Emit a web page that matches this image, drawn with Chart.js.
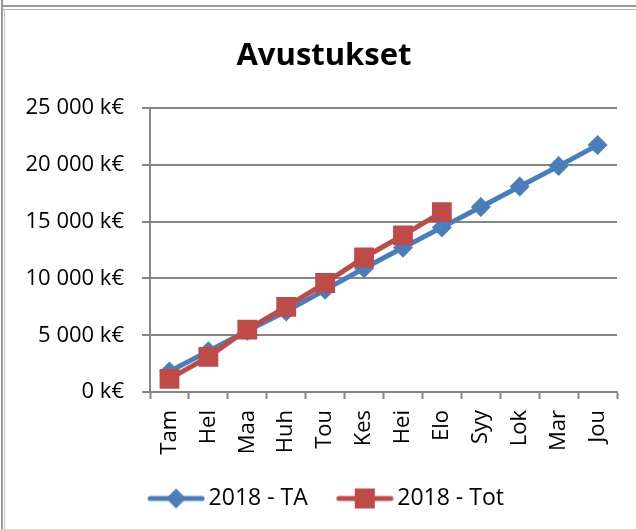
<!DOCTYPE html>
<html>
<head>
<meta charset="utf-8">
<script src="https://cdn.jsdelivr.net/npm/chart.js@4/dist/chart.umd.min.js"></script>
<style>
  body { margin: 0; background: #fff; }
  #wrap { position: relative; width: 636px; height: 529px; overflow: hidden; }
  #chart { position: absolute; left: 0; top: 0; }
  .frame { position: absolute; background: #9a9a9a; }
</style>
</head>
<body>
<div id="wrap">
  <canvas id="chart" width="636" height="529"></canvas>
  <div class="frame" style="left:1px;top:0;width:2px;height:529px"></div>
  <div class="frame" style="left:3px;top:5px;width:633px;height:2px"></div>
  <div class="frame" style="left:3px;top:9px;width:633px;height:1px;background:#b5b5b5"></div>
  <div class="frame" style="left:4px;top:9px;width:1px;height:520px;background:#c5c5c5"></div>
</div>
<script>
const months = ['Tam', 'Hel', 'Maa', 'Huh', 'Tou', 'Kes', 'Hei', 'Elo', 'Syy', 'Lok', 'Mar', 'Jou'];
const ta2018 = [1800, 3600, 5400, 7100, 9000, 10900, 12700, 14500, 16300, 18100, 19900, 21750];
const tot2018 = [1150, 3100, 5500, 7500, 9600, 11850, 13800, 15850, null, null, null, null];
const yTicks = [0, 5000, 10000, 15000, 20000, 25000];

const blue = 'rgb(74, 126, 187)';
const red = 'rgb(190, 75, 72)';
const grid = 'rgb(134, 134, 134)';
const font = "'Open Sans', sans-serif";

// legend sample: line with marker in the middle
function legendIcon(color, shape) {
    const c = document.createElement('canvas');
    c.width = 58; c.height = 24;
    const g = c.getContext('2d');
    g.strokeStyle = color;
    g.lineWidth = 5;
    g.lineCap = 'round';
    g.beginPath();
    g.moveTo(3, 12); g.lineTo(55, 12);
    g.stroke();
    g.fillStyle = color;
    g.beginPath();
    if (shape === 'diamond') {
        g.moveTo(29, 2); g.lineTo(39, 12); g.lineTo(29, 22); g.lineTo(19, 12);
    } else {
        g.rect(19, 2, 20, 20);
    }
    g.fill();
    return c;
}

function fmt(v) {
    return String(v).replace(/\B(?=(\d{3})+(?!\d))/g, ' ') + ' k€';
}

// nudge title and legend to where they sit in the original
const shiftBoxes = {
    id: 'shiftBoxes',
    afterLayout(chart) {
        chart.titleBlock.left += 31;
        const lg = chart.legend;
        lg.left += 42;
        const h = lg.bottom - lg.top;
        lg.top = 451;
        lg.bottom = lg.top + h;
    }
};

const ctx = document.getElementById('chart').getContext('2d');
const chart = new Chart(ctx, {
    type: 'line',
    data: {
        labels: months,
        datasets: [{
            label: '2018 - TA',
            data: ta2018,
            borderColor: blue,
            backgroundColor: blue,
            borderWidth: 5,
            pointStyle: 'rectRot',
            pointRadius: 10,
            pointBorderWidth: 0,
            order: 1,
            legendIcon: legendIcon(blue, 'diamond')
        }, {
            label: '2018 - Tot',
            data: tot2018,
            borderColor: red,
            backgroundColor: red,
            borderWidth: 5,
            pointStyle: 'rect',
            pointRadius: 14,
            pointBorderWidth: 0,
            order: 0,
            legendIcon: legendIcon(red, 'square')
        }]
    },
    options: {
        responsive: false,
        animation: false,
        layout: { padding: { left: 0, right: 19, top: 0, bottom: 0 } },
        plugins: {
            title: {
                display: true,
                text: 'Avustukset',
                color: '#000',
                font: { family: font, size: 31, weight: 'bold' },
                padding: { top: 38, bottom: 33 }
            },
            legend: {
                position: 'bottom',
                labels: {
                    color: '#000',
                    font: { family: font, size: 23 },
                    usePointStyle: true,
                    pointStyleWidth: 42,
                    padding: 36,
                    generateLabels: (ch) => ch.data.datasets.map((ds, i) => ({
                        text: ds.label,
                        pointStyle: ds.legendIcon,
                        fillStyle: ds.borderColor,
                        strokeStyle: ds.borderColor,
                        lineWidth: 0,
                        datasetIndex: i,
                        hidden: false
                    }))
                }
            },
            tooltip: { enabled: false }
        },
        scales: {
            x: {
                offset: true,
                grid: {
                    offset: true,
                    drawOnChartArea: false,
                    drawTicks: true,
                    tickLength: 7,
                    tickColor: grid,
                    tickWidth: 2
                },
                border: { color: grid, width: 2 },
                ticks: {
                    color: '#000',
                    font: { family: font, size: 22 },
                    minRotation: 90,
                    maxRotation: 90,
                    padding: 11,
                    autoSkip: false
                },
                afterFit: (s) => { s.height = 68; }
            },
            y: {
                min: 0,
                max: 25000,
                afterBuildTicks: (s) => { s.ticks = yTicks.map(v => ({ value: v })); },
                grid: {
                    color: grid,
                    lineWidth: 2,
                    tickLength: 8
                },
                border: { color: grid, width: 2 },
                ticks: {
                    color: '#000',
                    font: { family: font, size: 22 },
                    padding: 18,
                    callback: (v) => fmt(v)
                },
                afterFit: (s) => { s.width = 150; }
            }
        }
    },
    plugins: [shiftBoxes]
});
</script>
</body>
</html>
